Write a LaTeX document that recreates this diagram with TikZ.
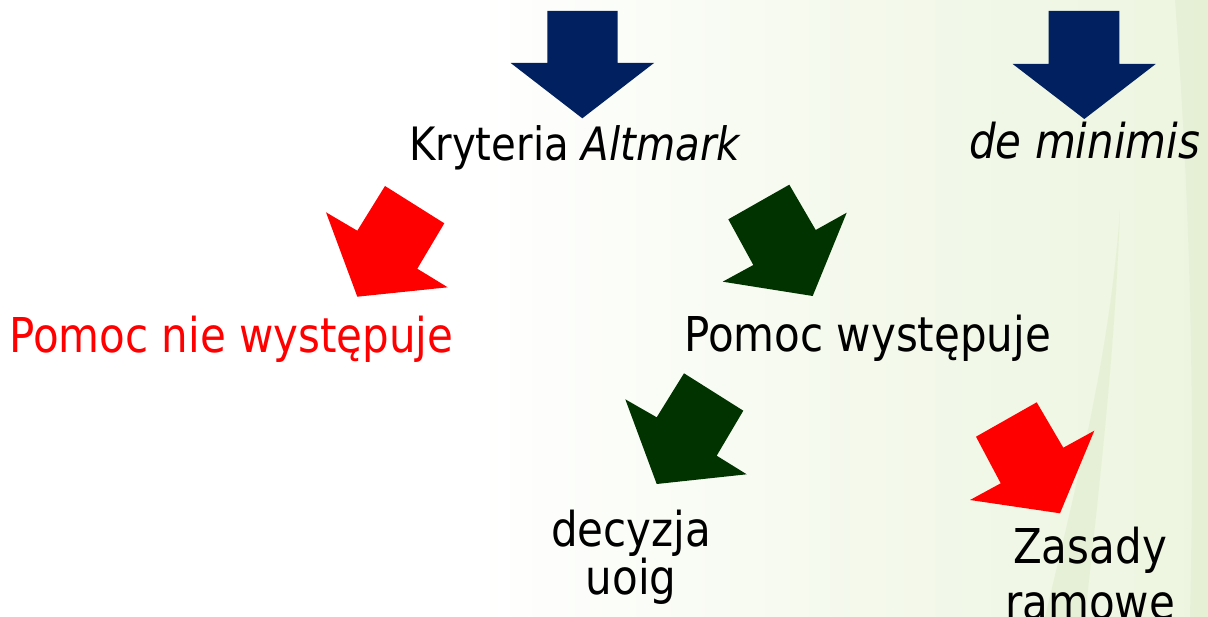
\documentclass[tikz,border=0pt]{standalone}
\usepackage{fontspec}
\setmainfont{DejaVu Sans}[FakeStretch=0.875]
\definecolor{navy}{HTML}{002060}
\definecolor{dkgreen}{HTML}{003300}
\definecolor{bgright}{HTML}{EDF5E0}
\definecolor{bgmid}{HTML}{F4F9EC}
\definecolor{blade}{HTML}{DCE9C6}
\tikzset{
  lbl/.style={anchor=base west, inner sep=0pt, font=\fontsize{48}{55}\selectfont},
  lblc/.style={anchor=base, inner sep=0pt, align=center},
}
\begin{document}
\begin{tikzpicture}[x=1pt,y=-1pt]
\useasboundingbox (0,0) rectangle (1208,617);
% background
\fill[white] (0,0) rectangle (1208,617);
\shade[left color=white, right color=bgmid] (480,0) rectangle (860,617);
\shade[left color=bgmid, right color=bgright] (860,0) rectangle (1208,617);
\fill[white] (0,0) rectangle (480,617);
% grass blades
\fill[blade, opacity=0.45] (1120,210) .. controls (1110,350) and (1080,470) .. (1045,617) -- (1085,617) .. controls (1100,480) and (1115,350) .. (1120,210) -- cycle;
\fill[blade, opacity=0.4] (1175,0) -- (1208,0) -- (1208,617) -- (1190,617) .. controls (1195,400) and (1190,200) .. (1175,0) -- cycle;
% blue arrows
\fill[navy] (547.3,11) -- (617.7,11) -- (617.7,63) -- (654,63) -- (582.3,118.3) -- (510.7,63) -- (547.3,63) -- cycle;
\fill[navy] (1048.7,11) -- (1119.3,11) -- (1119.3,64) -- (1155.7,64) -- (1084.3,119) -- (1012.7,64) -- (1048.7,64) -- cycle;
% red arrow left
\fill[red] (385,186) -- (444.3,223.3) -- (417.3,268.7) -- (447.7,287.3) -- (357.3,296.7) -- (326,212.3) -- (357.3,230.7) -- cycle;
% green arrow right
\fill[dkgreen] (789.3,184.7) -- (815.7,230) -- (846.7,212.7) -- (812.7,296) -- (722.7,281.7) -- (753.3,265) -- (728.3,219.3) -- cycle;
% green arrow lower
\fill[dkgreen] (684,373.3) -- (743.3,410.7) -- (716.7,455.7) -- (746.7,474.3) -- (656.7,484) -- (625.3,399.3) -- (656.7,417.3) -- cycle;
% red arrow lower right
\fill[red] (1036.7,402.3) -- (1063.3,447.7) -- (1094.3,430.7) -- (1060,513.3) -- (970,500) -- (1000.7,483.3) -- (976,436.7) -- cycle;
% texts
\node[lbl, font=\fontsize{46}{55}\selectfont] (kryt) at (409,160.5) {Kryteria \textit{Altmark}};
\node[lbl] (demin) at (969,159) {\textit{de minimis}};
\node[lbl, text=red] (nie) at (9,353) {Pomoc nie występuje};
\node[lbl] (wyst) at (684,352) {Pomoc występuje};
\node[lblc, font=\fontsize{48}{44}\selectfont] (dec) at (631,594) {decyzja\\uoig};
\node[lblc, font=\fontsize{48}{56}\selectfont] (zas) at (1090,619) {Zasady\\ramowe};
\end{tikzpicture}
\end{document}
